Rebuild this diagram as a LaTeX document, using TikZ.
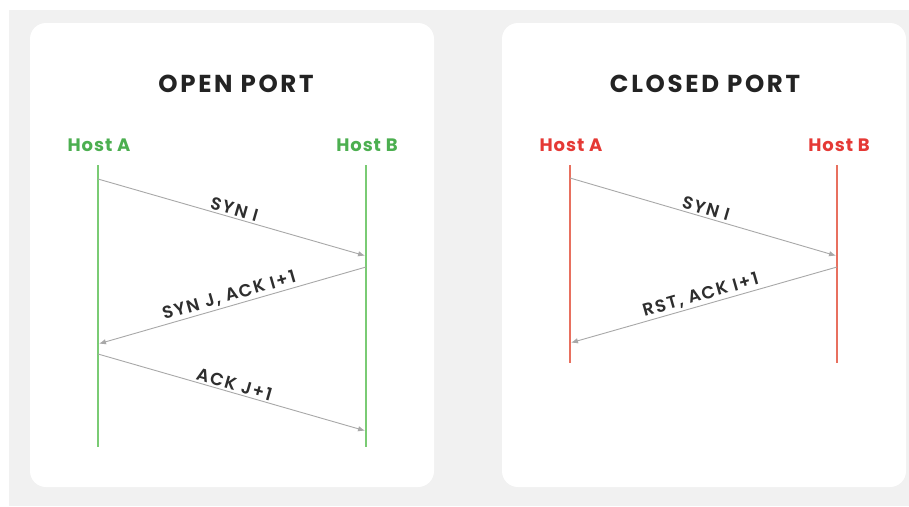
\documentclass[tikz,border=0pt]{standalone}
\usepackage{fontspec}
\setmainfont{Poppins}
\newfontfamily\titlefont{Poppins}[LetterSpace=11]
\newfontfamily\hostfont{Poppins}[LetterSpace=5]
\newfontfamily\msgfont{Poppins SemiBold}[LetterSpace=9]
\usetikzlibrary{arrows.meta}

\definecolor{pagebg}{HTML}{F1F1F1}
\definecolor{okgreen}{HTML}{4CAF50}
\definecolor{okline}{HTML}{7ACB74}
\definecolor{errred}{HTML}{E53935}
\definecolor{errline}{HTML}{E8705F}
\definecolor{msggray}{HTML}{A8A8A8}
\definecolor{ink}{HTML}{232323}

\tikzset{
  card/.style={fill=white, rounded corners=16pt},
  paneltitle/.style={text=ink, font=\titlefont\bfseries\fontsize{24.5}{26}\selectfont, inner sep=0pt},
  hostlabel/.style={font=\hostfont\bfseries\fontsize{18}{20}\selectfont, inner sep=0pt},
  lifeline/.style={line width=1.3pt},
  msg/.style={draw=msggray, line width=0.9pt, -{Latex[length=7pt,width=5.5pt]}, shorten >=1pt},
  msglabel/.style={text=ink!95, font=\msgfont\fontsize{17.5}{19}\selectfont, sloped, above, inner sep=2pt}
}

\begin{document}
\begin{tikzpicture}[x=1pt,y=-1pt]
  \useasboundingbox (0,0) rectangle (909,506);
  \fill[pagebg] (9,10) rectangle (909,506);

  % ---------- open port ----------
  \fill[card] (30,23) rectangle (434,487);
  \node[paneltitle] (openTitle) at (236,84) {OPEN PORT};
  \node[hostlabel, text=okgreen] (oHostA) at (99,145) {Host A};
  \node[hostlabel, text=okgreen] (oHostB) at (367,145) {Host B};

  \coordinate (oAtop) at (98,165);  \coordinate (oAbot) at (98,447);
  \coordinate (oBtop) at (366,165); \coordinate (oBbot) at (366,447);
  \draw[lifeline, okline] (oAtop) -- (oAbot);
  \draw[lifeline, okline] (oBtop) -- (oBbot);

  \coordinate (oA1) at (98,179);  \coordinate (oB1) at (366,256);
  \coordinate (oB2) at (366,267); \coordinate (oA2) at (98,344);
  \coordinate (oA3) at (98,354);  \coordinate (oB3) at (366,431);
  \draw[msg] (oA1) -- (oB1) node[msglabel, midway] {SYN I};
  \draw[msg] (oB2) -- (oA2) node[msglabel, midway] {SYN J, ACK I+1};
  \draw[msg] (oA3) -- (oB3) node[msglabel, midway] {ACK J+1};

  % ---------- closed port ----------
  \fill[card] (502,23) rectangle (906,487);
  \node[paneltitle] (closedTitle) at (705,84) {CLOSED PORT};
  \node[hostlabel, text=errred] (cHostA) at (571,145) {Host A};
  \node[hostlabel, text=errred] (cHostB) at (839,145) {Host B};

  \coordinate (cAtop) at (570,165); \coordinate (cAbot) at (570,363);
  \coordinate (cBtop) at (837,165); \coordinate (cBbot) at (837,363);
  \draw[lifeline, errline] (cAtop) -- (cAbot);
  \draw[lifeline, errline] (cBtop) -- (cBbot);

  \coordinate (cA1) at (570,178); \coordinate (cB1) at (837,256);
  \coordinate (cB2) at (837,267); \coordinate (cA2) at (570,343);
  \draw[msg] (cA1) -- (cB1) node[msglabel, midway] {SYN I};
  \draw[msg] (cB2) -- (cA2) node[msglabel, midway] {RST, ACK I+1};
\end{tikzpicture}
\end{document}
